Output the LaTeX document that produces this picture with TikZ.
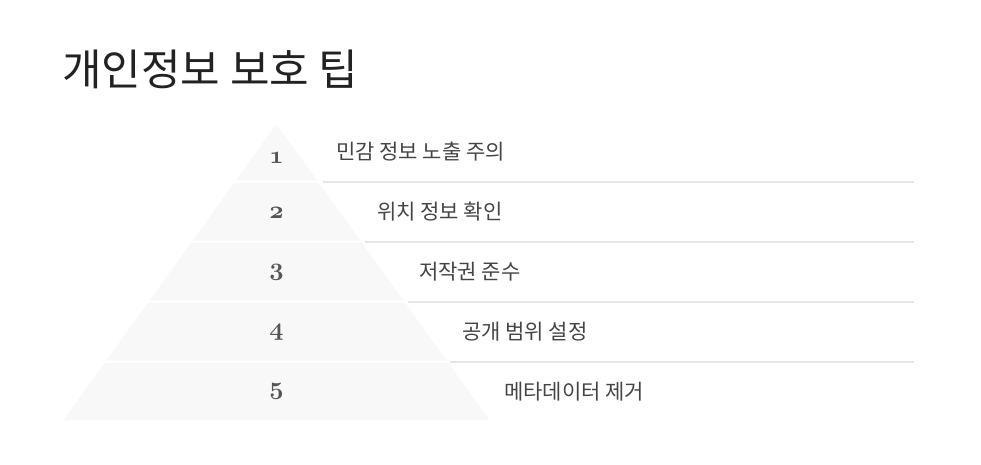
\documentclass[tikz,border=0pt]{standalone}
\usepackage{fontspec}
\newfontfamily\kr{Noto Sans CJK KR}
\definecolor{pyr}{HTML}{F9F8F8}
\definecolor{sep}{HTML}{E6E6E6}
\definecolor{lbl}{HTML}{444444}
\definecolor{num}{HTML}{555555}
\definecolor{ttl}{HTML}{222222}
\newcommand{\osn}[1]{{\fontencoding{OML}\fontfamily{cmm}\fontseries{b}\fontshape{it}\selectfont #1}}
\tikzset{
  layer/.style={fill=pyr, draw=none},
  sepline/.style={draw=sep, line width=1.8pt},
  numtxt/.style={inner sep=0pt, text=num, font=\fontsize{23}{23}\selectfont},
  lbltxt/.style={inner sep=0pt, anchor=west, text=lbl, font=\kr\fontsize{21}{22}\selectfont},
  ttltxt/.style={inner sep=0pt, anchor=west, text=ttl, font=\kr\fontsize{43}{45}\selectfont}
}
\begin{document}
\begin{tikzpicture}[x=1pt,y=-1pt]
\useasboundingbox (0,0) rectangle (981,464);
% pyramid layers (apex 276.5,124; half-width = 0.7196*(y-124))
\def\k{0.7196}
\foreach \t/\b [count=\i] in {124/180.5, 182.5/240.5, 242.5/300.5, 302.5/360.5, 362.5/420}{
  \pgfmathsetmacro{\wt}{\k*(\t-124)}
  \pgfmathsetmacro{\wb}{\k*(\b-124)}
  \path[layer] ({276.5-\wt},\t) -- ({276.5+\wt},\t) -- ({276.5+\wb},\b) -- ({276.5-\wb},\b) -- cycle;
}
% separator lines
\coordinate (s1a) at (323,182);  \coordinate (s1b) at (914,182);
\coordinate (s2a) at (365,242);  \coordinate (s2b) at (914,242);
\coordinate (s3a) at (408,302);  \coordinate (s3b) at (914,302);
\coordinate (s4a) at (450,362);  \coordinate (s4b) at (914,362);
\draw[sepline] (s1a) -- (s1b);
\draw[sepline] (s2a) -- (s2b);
\draw[sepline] (s3a) -- (s3b);
\draw[sepline] (s4a) -- (s4b);
% numbers
\node[numtxt] (n1) at (276.5,158) {\osn{1}};
\node[numtxt] (n2) at (276.5,213) {\osn{2}};
\node[numtxt] (n3) at (276.5,272) {\osn{3}};
\node[numtxt] (n4) at (276.5,332) {\osn{4}};
\node[numtxt] (n5) at (276.5,391) {\osn{5}};
% labels
\node[lbltxt] (l1) at (336,152) {민감 정보 노출 주의};
\node[lbltxt] (l2) at (377,212) {위치 정보 확인};
\node[lbltxt] (l3) at (419,272) {저작권 준수};
\node[lbltxt] (l4) at (462,332) {공개 범위 설정};
\node[lbltxt] (l5) at (504,392) {메타데이터 제거};
% title
\node[ttltxt] (title) at (62,69) {개인정보 보호 팁};
\end{tikzpicture}
\end{document}
